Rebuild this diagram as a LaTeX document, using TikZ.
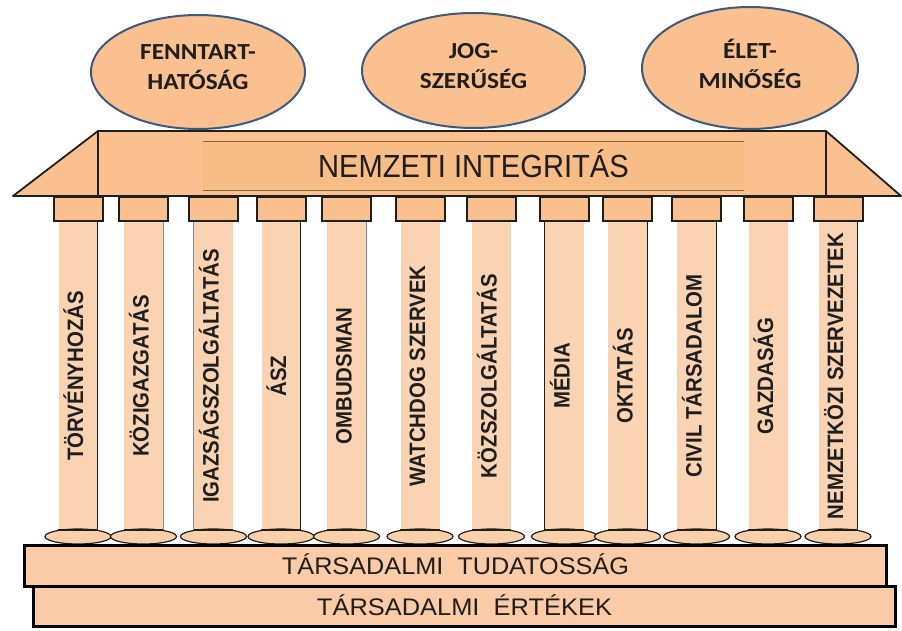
\documentclass[tikz,border=0pt]{standalone}
\usepackage{fontspec}
\setmainfont{Liberation Sans}
\newfontfamily\carl{Carlito}
\usetikzlibrary{shapes.geometric}
\definecolor{roofc}{HTML}{FAC08F}
\definecolor{shaftc}{HTML}{FAD3B2}
\definecolor{bandc}{HTML}{FACBA6}
\definecolor{bannerc}{HTML}{F8BD87}
\definecolor{bannerl}{HTML}{8C6A3C}
\definecolor{goalb}{HTML}{3C5A7D}
\definecolor{basec}{HTML}{FAD0AA}
\definecolor{inkc}{HTML}{1E1E1E}
\tikzset{
  roof/.style={fill=roofc, draw=inkc, line width=1.8pt, line join=round},
  capbox/.style={rectangle, fill=roofc, draw=inkc, line width=2pt, minimum width=49pt, minimum height=24pt, inner sep=0pt},
  shaft/.style={rectangle, fill=shaftc, draw=none, minimum width=39pt, minimum height=308pt, inner sep=0pt},
  baseell/.style={ellipse, fill=basec, draw=inkc, line width=1.2pt, minimum width=66pt, minimum height=15pt, inner sep=0pt},
  band/.style={rectangle, fill=bandc, draw=black, line width=3.2pt, inner sep=0pt, text=inkc, text height=17pt, text depth=0pt},
  goal/.style={ellipse, fill=roofc, draw=goalb, line width=2pt, inner sep=0pt},
  goaltext/.style={align=center, text=inkc, font=\carl\bfseries\fontsize{23}{30}\selectfont, inner sep=0pt},
  pillartext/.style={rotate=90, inner sep=0pt, text=inkc, text height=16pt, text depth=0pt, font=\bfseries\fontsize{22.3}{24}\selectfont},
  darkline/.style={draw=inkc, line width=1.2pt},
  faintline/.style={draw=black!45, line width=0.8pt}
}
\begin{document}
\begin{tikzpicture}[x=1pt, y=-1pt]
\useasboundingbox (0,0) rectangle (902,631);
% roof
\draw[roof] (13,196) -- (98,131) -- (826,131) -- (901,196) -- cycle;
\draw[roof] (98,131) -- (98,196);
\draw[roof] (826,131) -- (826,196);
\node[rectangle, fill=bannerc, minimum width=541pt, minimum height=52pt, inner sep=0pt,
      text=inkc, text height=23pt, text depth=0pt, font=\fontsize{32}{34}\selectfont]
  (banner) at (473.5,166) {\scalebox{0.91}[1]{NEMZETI INTEGRITÁS}};
\draw[bannerl, line width=1.5pt] ([yshift=-1.5pt]banner.north west) -- ([yshift=-1.5pt]banner.north east);
\draw[bannerl, line width=1.5pt] ([yshift=1.5pt]banner.south west) -- ([yshift=1.5pt]banner.south east);
% pillars
\foreach \i/\cx/\lab in {1/78/TÖRVÉNYHOZÁS, 2/143.5/KÖZIGAZGATÁS, 3/213.5/IGAZSÁGSZOLGÁLTATÁS,
  4/281/ÁSZ, 5/346.5/OMBUDSMAN, 6/420/WATCHDOG SZERVEK, 7/491.5/KÖZSZOLGÁLTATÁS,
  8/564.5/MÉDIA, 9/627.5/OKTATÁS, 10/696.5/CIVIL TÁRSADALOM, 11/768/GAZDASÁG,
  12/838/NEMZETKÖZI SZERVEZETEK}{
  \node[capbox] (cap\i) at (\cx,209.5) {};
  \node[shaft] (sh\i) at (\cx,376) {};
  \node[baseell] (bs\i) at (\cx,536.5) {};
  \draw[inkc, line width=1.8pt] (sh\i.south west) -- (sh\i.south east);
  \node[pillartext] (lb\i) at ([xshift=-3pt]sh\i.center) {\scalebox{0.915}[1]{\lab}};
}
\foreach \i in {1,4,9,10,12}{\draw[darkline] (sh\i.north east) -- (sh\i.south east);}
\draw[darkline] (sh8.north west) -- (sh8.south west);
\draw[faintline] (sh2.north east) -- (sh2.south east);
\draw[faintline] (sh3.north west) -- (sh3.south west);
\draw[faintline] (sh5.north east) -- (sh5.south east);
% bands
\node[band, minimum width=861.8pt, minimum height=39.8pt, font=\fontsize{24}{26}\selectfont]
  (values) at (464.5,606.5) {\resizebox{295pt}{\height}{TÁRSADALMI\ \ ÉRTÉKEK}};
\node[band, minimum width=861.8pt, minimum height=40.8pt, font=\fontsize{24}{26}\selectfont]
  (aware) at (455.5,566) {\resizebox{347pt}{\height}{TÁRSADALMI\ \ TUDATOSSÁG}};
% goals
\node[goal, minimum width=214pt, minimum height=114pt] (g1) at (198,72) {};
\node[goal, minimum width=223pt, minimum height=115pt] (g2) at (473.5,70.5) {};
\node[goal, minimum width=216pt, minimum height=122pt] (g3) at (750,68) {};
\node[goaltext] (t1) at ([yshift=4.5pt]g1.center) {\scalebox{1.1}[1]{FENNTART-}\\\scalebox{1.1}[1]{HATÓSÁG}};
\node[goaltext] (t2) at ([yshift=4.5pt]g2.center) {\scalebox{1.1}[1]{JOG-}\\\scalebox{1.1}[1]{SZERŰSÉG}};
\node[goaltext] (t3) at ([yshift=4.5pt]g3.center) {\scalebox{1.1}[1]{ÉLET-}\\\scalebox{1.1}[1]{MINŐSÉG}};
\end{tikzpicture}
\end{document}
